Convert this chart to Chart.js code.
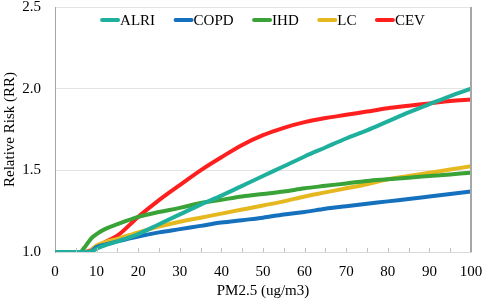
<!DOCTYPE html>
<html>
<head>
<meta charset="utf-8">
<script src="https://cdn.jsdelivr.net/npm/chart.js@4.4.0/dist/chart.umd.min.js"></script>
<style>
  html, body { margin: 0; padding: 0; background: #fff; }
  #wrap { width: 484px; height: 305px; }
</style>
</head>
<body>
<div id="wrap"><canvas id="myChart"></canvas></div>
<script>
// PM2.5 concentrations (x) and relative risk for each cause
const pm = [0, 5, 6, 7, 8, 9, 10, 12, 15, 20, 25, 30, 35, 40, 45, 50, 55, 60, 65, 70, 75, 80, 85, 90, 95, 100];
const alri = [1, 1, 1, 1, 1, 1.005, 1.02, 1.04, 1.065, 1.11, 1.17, 1.23, 1.29, 1.345, 1.405, 1.465, 1.525, 1.585, 1.64, 1.695, 1.745, 1.80, 1.855, 1.905, 1.955, 2.0];
const copd = [1, 1, 1, 1, 1, 1.01, 1.03, 1.045, 1.065, 1.095, 1.12, 1.14, 1.16, 1.18, 1.195, 1.21, 1.23, 1.245, 1.265, 1.28, 1.295, 1.31, 1.325, 1.34, 1.355, 1.37];
const ihd = [1, 1, 1, 1.025, 1.06, 1.09, 1.11, 1.14, 1.17, 1.215, 1.245, 1.27, 1.30, 1.32, 1.34, 1.355, 1.37, 1.39, 1.405, 1.42, 1.435, 1.445, 1.455, 1.465, 1.475, 1.485];
const lc = [1, 1, 1, 1, 1, 1.02, 1.04, 1.06, 1.08, 1.12, 1.155, 1.185, 1.21, 1.235, 1.26, 1.285, 1.31, 1.34, 1.365, 1.39, 1.415, 1.445, 1.465, 1.485, 1.505, 1.525];
const cev = [1, 1, 1, 1, 1.005, 1.015, 1.03, 1.06, 1.10, 1.215, 1.318, 1.41, 1.50, 1.58, 1.655, 1.715, 1.76, 1.795, 1.82, 1.84, 1.86, 1.88, 1.895, 1.91, 1.925, 1.934];

const names = ["ALRI", "COPD", "IHD", "LC", "CEV"];
const series = [alri, copd, ihd, lc, cev];
const colors = ["#1fb09d", "#1570be", "#3aa337", "#e6b820", "#ff1f1f"];

const FONT = "'Liberation Serif', 'Times New Roman', serif";

// legend drawn inside the plot area, centred along the top
const legendInside = {
  id: 'legendInside',
  afterDraw(chart) {
    const c = chart.ctx, a = chart.chartArea;
    const sw = 18, gap = 1, space = 19.5;
    c.save();
    c.font = '15px ' + FONT;
    const items = chart.data.datasets.map(d => ({ label: d.label, color: d.borderColor, w: c.measureText(d.label).width }));
    const total = items.reduce((s, it) => s + sw + gap + it.w, 0) + space * (items.length - 1);
    let x = (a.left + a.right) / 2 - total / 2;
    const y = a.top + 13;
    c.textBaseline = 'middle';
    c.lineCap = 'round';
    items.forEach(it => {
      c.strokeStyle = it.color;
      c.lineWidth = 4;
      c.beginPath();
      c.moveTo(x + 1, y);
      c.lineTo(x + sw - 1, y);
      c.stroke();
      c.fillStyle = '#000';
      c.fillText(it.label, x + sw + gap, y + 1);
      x += sw + gap + it.w + space;
    });
    c.restore();
  }
};

// right frame line and small inward ticks on the x axis every 5 units
const framePlugin = {
  id: 'frame',
  afterDraw(chart) {
    const c = chart.ctx, a = chart.chartArea, xs = chart.scales.x;
    c.save();
    c.strokeStyle = '#a6a6a6';
    c.lineWidth = 2;
    c.beginPath();
    c.moveTo(a.right, a.top);
    c.lineTo(a.right, a.bottom);
    c.stroke();
    c.lineWidth = 1;
    c.strokeStyle = '#bfbfbf';
    c.beginPath();
    for (let v = 5; v < 100; v += 5) {
      const px = Math.round(xs.getPixelForValue(v)) + 0.5;
      c.moveTo(px, a.bottom);
      c.lineTo(px, a.bottom - 4);
    }
    c.stroke();
    c.restore();
  }
};

const ctx = document.getElementById("myChart").getContext("2d");
const chart = new Chart(ctx, {
  type: "line",
  data: {
    datasets: names.map((n, i) => ({
      label: n,
      data: pm.map((x, j) => ({ x: x, y: series[i][j] })),
      borderColor: colors[i],
      backgroundColor: colors[i],
      borderWidth: 4,
      pointRadius: 0,
      cubicInterpolationMode: 'monotone',
      fill: false
    }))
  },
  options: {
    responsive: true,
    maintainAspectRatio: false,
    animation: false,
    layout: { padding: { top: 7, right: 13, left: 0, bottom: 0 } },
    plugins: {
      legend: { display: false },
      tooltip: { enabled: false }
    },
    scales: {
      x: {
        type: 'linear',
        min: 0,
        max: 100,
        afterFit: s => { s.height = 53; s.paddingRight = 0; s.paddingLeft = 0; },
        ticks: { stepSize: 10, color: '#000', padding: 3, font: { family: FONT, size: 15 }, maxRotation: 0 },
        grid: { display: false },
        border: { color: '#d9d9d9' },
        title: { display: true, text: 'PM2.5 (ug/m3)', color: '#000', font: { family: FONT, size: 15 }, padding: { top: 2, bottom: 5 } }
      },
      y: {
        min: 1,
        max: 2.5,
        afterFit: s => { s.width = 55; s.paddingTop = 0; s.paddingBottom = 0; },
        ticks: { stepSize: 0.5, color: '#000', padding: 14, font: { family: FONT, size: 15 }, callback: v => v.toFixed(1) },
        grid: { color: '#e3e3e3', drawTicks: false },
        border: { color: '#a6a6a6' },
        title: { display: true, text: 'Relative Risk (RR)', color: '#000', font: { family: FONT, size: 15 }, padding: 1 }
      }
    }
  },
  plugins: [legendInside, framePlugin]
});
</script>
</body>
</html>
